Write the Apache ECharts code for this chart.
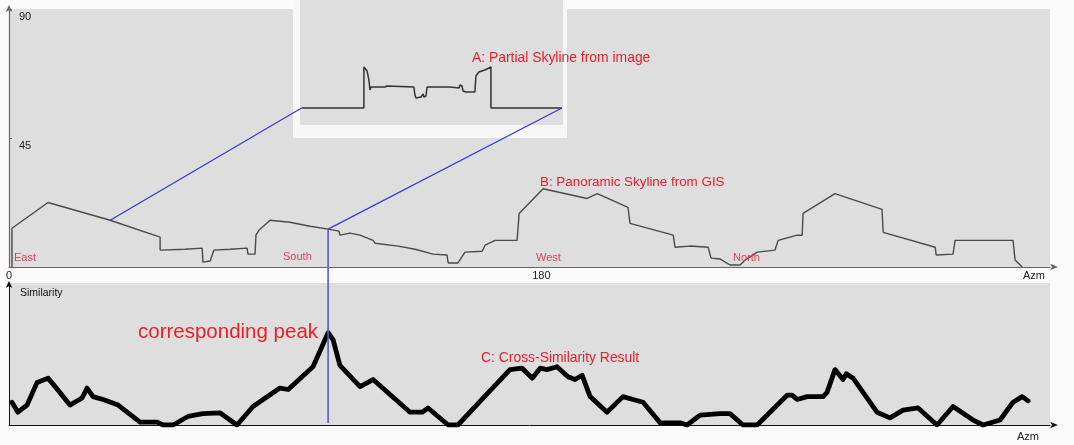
<!DOCTYPE html>
<html><head><meta charset="utf-8">
<script src="https://cdn.jsdelivr.net/npm/echarts@6/dist/echarts.min.js"></script>
<style>html,body{margin:0;padding:0;background:#fbfbfb}#c{width:1074px;height:445px}</style>
</head><body><div id="c"></div><script>
// B: panoramic skyline from GIS (azimuth deg, elevation deg)
const skyAz = [1.0,1.0,13.2,34.2,51.1,51.1,59.5,65.3,65.6,68,69.3,74.7,80.5,80.8,83.2,83.5,84.5,88.3,95,101.8,107.9,111.6,111.9,115.3,118.7,123.1,123.8,131.6,137.3,143.4,148.1,148.5,151.8,154.2,160,161,164.4,171.8,172.5,180.6,195.5,198.9,209.3,210,224.6,225.2,230.3,236.4,237.4,240.4,243.8,247.2,248.9,253,259,260.1,266.5,268.2,268.5,279.3,295.2,295.6,313.2,313.5,319.2,319.9,339.5,340.2,342.6];
const skyElev = [0,13.5,22.5,16.3,10.4,5.9,6.2,6.6,1.7,2.1,5.9,6.2,6.6,4.5,4.5,11.1,12.8,16.3,15.6,14.2,13.2,12.5,11.1,11.8,11.1,9.3,8.3,7.3,6.2,4.5,4.2,1.4,1.4,5.2,5.5,7.6,9.3,9.3,18.7,27.3,23.9,25.6,20.8,15.2,11.1,6.9,7.3,6.9,3.1,2.8,0.7,0.7,2.4,5.2,5.9,9.3,11.1,11.1,18.7,25.6,20.1,12.1,6.9,4.2,4.5,9.3,9.3,2.4,0];
// C: cross-similarity result
const simAz = [1.0,3.0,6.1,9.5,13.2,15.6,20.6,24.7,26.4,28.4,31.8,36.9,44.3,50.1,52.1,55.5,60.5,65.6,71.4,77.1,82.5,91.6,94.4,102.8,107.9,109.6,111.9,118.7,123.1,135.6,139.7,141.7,143.4,148.5,151.8,160.3,169.4,173.5,176.9,179.6,181.9,185.3,189,191.4,193.8,196.5,202.2,207.6,211,214.4,220.2,226.9,229.3,233.7,240.4,243.8,248.2,253,263.1,264.8,266.5,269.9,275.3,276.6,279.3,282,283.1,285.4,293.5,297.9,302.3,307.4,313.8,319.2,326,329.4,335.1,339.5,342.6,344.6];
const simVal = [16,9,14,30,33,27,14,19,26,20,18,14,2,2,0,0,6,8,8.5,0,13,26,25,41,65,60,42,27,32,9,9,12,9,0,0,19,39,40,33,40,39,41,34,32,35,20,9,20,18,16,1.5,1.5,0,7,8,8,0,0,21,21,18,20,20,23,39,32,36,33,9,5,10.5,12,0,13,3.5,0,3.5,16,20,17];
// A: partial skyline from image (position % across inset, height)
const insetPos = [0.6,24.3,24.3,25.5,26.2,26.6,27,32.3,33.1,43.3,43.7,44.1,46,46.8,47.1,47.9,48.3,57,60.5,60.8,61.6,62,63.1,66.5,66.9,68,70.3,72.6,72.6,99.6];
const insetHeight = [0,0,41,37,28,18,21,21,22,21,13,10,11,14,11,12,21,21,20,23,22,17,16,16,32,36,38,41,0,0];
const xTickLabels = [0, 180];
const yTickLabels = [45, 90];
const linkAz = [34.2, 107.9];

const zip = (a, b) => a.map((v, i) => [v, b[i]]);
const GRAY = '#dedede', RED = '#e8202c', DIR = '#e0405a', BLUE = '#3a3ad6';

const chart = echarts.init(document.getElementById('c'), null, {renderer: 'canvas'});
chart.setOption({
  animation: false,
  backgroundColor: '#fbfbfb',
  grid: [
    {left: 9, top: 9, width: 1041, height: 258, show: true, backgroundColor: GRAY, borderWidth: 0},
    {left: 9, top: 283, width: 1041, height: 142, show: true, backgroundColor: GRAY, borderWidth: 0},
    {left: 300, top: 0, width: 263, height: 125, show: true, backgroundColor: GRAY, borderWidth: 0, z: 3}
  ],
  xAxis: [
    {gridIndex: 0, type: 'value', min: 0, max: 352, interval: 180,
     axisLine: {lineStyle: {color: '#666', width: 1.2}, symbol: ['none', 'arrow'], symbolSize: [5, 8], symbolOffset: [0, 8]},
     axisTick: {show: false}, splitLine: {show: false},
     axisLabel: {margin: 3, fontSize: 11, color: '#222', fontFamily: 'Liberation Sans',
       formatter: v => xTickLabels.includes(v) ? String(v) : ''}},
    {gridIndex: 1, type: 'value', min: 0, max: 352, interval: 180,
     axisLine: {lineStyle: {color: '#111', width: 1}, symbol: ['none', 'arrow'], symbolSize: [5, 8], symbolOffset: [0, 8]},
     axisTick: {show: false}, splitLine: {show: false}, axisLabel: {show: false}},
    {gridIndex: 2, type: 'value', min: 0, max: 100, show: false}
  ],
  yAxis: [
    {gridIndex: 0, type: 'value', min: 0, max: 90, interval: 45,
     axisLine: {show: true, lineStyle: {color: '#666', width: 1.2}, symbol: ['none', 'arrow'], symbolSize: [5, 7], symbolOffset: [0, 4]},
     axisTick: {show: true, inside: true, length: 3, lineStyle: {color: '#666'}}, splitLine: {show: false},
     axisLabel: {inside: true, margin: 10, fontSize: 11, color: '#222', fontFamily: 'Liberation Sans', verticalAlign: 'top', padding: [2, 0, 0, 0],
       formatter: v => yTickLabels.includes(v) ? String(v) : ''}},
    {gridIndex: 1, type: 'value', min: 0, max: 100,
     axisLine: {show: true, lineStyle: {color: '#111', width: 1}, symbol: ['none', 'arrow'], symbolSize: [5, 7], symbolOffset: [0, 2]},
     axisTick: {show: false}, splitLine: {show: false}, axisLabel: {show: false}},
    {gridIndex: 2, type: 'value', min: -17, max: 108, show: false}
  ],
  series: [
    {type: 'line', xAxisIndex: 0, yAxisIndex: 0, data: zip(skyAz, skyElev), showSymbol: false,
     lineStyle: {color: '#4a4a4a', width: 1.4}},
    {type: 'line', xAxisIndex: 1, yAxisIndex: 1, data: zip(simAz, simVal), showSymbol: false,
     lineStyle: {color: '#000', width: 4.8, join: 'round', cap: 'round'}},
    {type: 'line', xAxisIndex: 2, yAxisIndex: 2, data: zip(insetPos, insetHeight), showSymbol: false, z: 5,
     lineStyle: {color: '#333', width: 1.5}}
  ]
});

function skyAt(az) {
  for (let i = 1; i < skyAz.length; i++) {
    if (az <= skyAz[i]) {
      const t = (az - skyAz[i - 1]) / ((skyAz[i] - skyAz[i - 1]) || 1);
      return skyElev[i - 1] + t * (skyElev[i] - skyElev[i - 1]);
    }
  }
  return 0;
}
const pInsetL = chart.convertToPixel({gridIndex: 2}, [insetPos[0], 0]);
const pInsetR = chart.convertToPixel({gridIndex: 2}, [insetPos[insetPos.length - 1], 0]);
const pSkyL = chart.convertToPixel({gridIndex: 0}, [linkAz[0], skyAt(linkAz[0])]);
const pSkyR = chart.convertToPixel({gridIndex: 0}, [linkAz[1], skyAt(linkAz[1])]);
const pBottom = chart.convertToPixel({gridIndex: 1}, [linkAz[1], 0]);

const txt = (text, x, y, size, color) => ({type: 'text', x, y, z: 20,
  style: {text, fill: color, font: size + 'px "Liberation Sans", Arial, sans-serif', textVerticalAlign: 'middle'}});

chart.setOption({graphic: {elements: [
  {type: 'rect', z: 2, shape: {x: 293, y: 0, width: 274, height: 138}, style: {fill: '#f7f7f7'}},
  {type: 'line', z: 10, shape: {x1: pInsetL[0], y1: pInsetL[1], x2: pSkyL[0], y2: pSkyL[1]}, style: {stroke: BLUE, lineWidth: 1.3}},
  {type: 'line', z: 10, shape: {x1: pInsetR[0], y1: pInsetR[1], x2: pSkyR[0], y2: pSkyR[1]}, style: {stroke: BLUE, lineWidth: 1.3}},
  {type: 'line', z: 10, shape: {x1: pSkyR[0], y1: pSkyR[1], x2: pSkyR[0], y2: pBottom[1] - 2}, style: {stroke: '#5a5ad0', lineWidth: 1.6}},
  txt('A: Partial Skyline from image', 472, 58, 13.9, RED),
  txt('B: Panoramic Skyline from GIS', 540, 182, 13.4, RED),
  txt('C: Cross-Similarity Result', 481, 358, 13.9, RED),
  txt('corresponding peak', 138, 332, 20.5, RED),
  txt('East', 14, 258, 11, DIR),
  txt('South', 283, 257, 11, DIR),
  txt('West', 536, 258, 11, DIR),
  txt('North', 733, 258, 11, DIR),
  txt('Similarity', 20, 293, 10.5, '#111'),
  txt('Azm', 1023, 276, 11, '#222'),
  txt('Azm', 1017, 437, 11, '#222')
]}});
</script></body></html>
